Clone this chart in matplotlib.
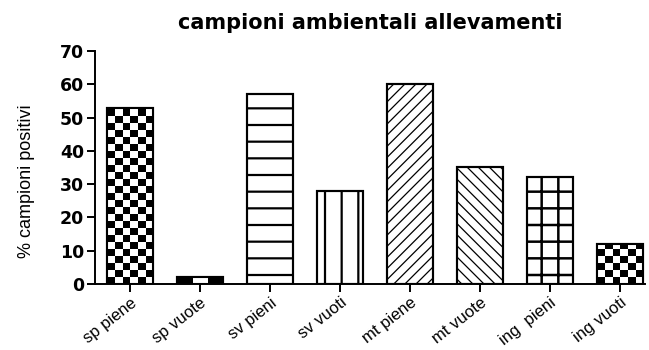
import numpy as np
import matplotlib
matplotlib.use('Agg')
import matplotlib.pyplot as plt

categories = ['sp piene', 'sp vuote', 'sv pieni', 'sv vuoti',
              'mt piene', 'mt vuote', 'ing  pieni', 'ing vuoti']
values = [53, 2, 57, 28, 60, 35, 32, 12]
hatches = [None, None, '-', '|', '///', '\\\\\\', '+', None]
hatch_lw = [0, 0, 1.6, 1.6, 0.9, 0.9, 1.8, 0]
checker_cols = {0: 6, 1: 3, 7: 6}   # bars drawn with a checkerboard fill

plt.rcParams['hatch.linewidth'] = 1.6

fig = plt.figure(figsize=(6.49, 3.5), dpi=100)
ax = fig.add_axes([0.1464, 0.1886, 0.8474, 0.6657])

x = np.arange(len(categories))
width = 0.66

bars = ax.bar(x, values, width=width, color='white', edgecolor='black',
              linewidth=1.5, zorder=2)
for b, h, lw in zip(bars, hatches, hatch_lw):
    if h:
        b.set_hatch(h)
        if hasattr(b, 'set_hatch_linewidth'):
            b.set_hatch_linewidth(lw)

# checkerboard fills, clipped to the bars
for i, ncols in checker_cols.items():
    b = bars[i]
    x0, y0, w, hgt = b.get_x(), b.get_y(), b.get_width(), b.get_height()
    cw = w / ncols
    ch = 2.1 if ncols == 6 else hgt
    nrows = int(np.ceil(hgt / ch))
    img = 1 - np.add.outer(np.arange(nrows), np.arange(ncols)) % 2
    im = ax.imshow(img, extent=(x0, x0 + ncols * cw, y0, y0 + nrows * ch),
                   origin='lower', cmap='gray_r', interpolation='nearest',
                   aspect='auto', zorder=2.5)
    im.set_clip_path(b)

# outlines on top
ax.bar(x, values, width=width, fill=False, edgecolor='black',
       linewidth=1.5, zorder=3)

ax.set_xlim(-0.5, 7.36)
ax.set_ylim(0, 70)
ax.set_yticks(range(0, 71, 10))
ax.set_xticks(x)
ax.set_xticklabels(categories, rotation=38, ha='right',
                   rotation_mode='anchor', fontsize=12,
                   family=['Liberation Sans', 'DejaVu Sans'])

for s in ['top', 'right']:
    ax.spines[s].set_visible(False)
for s in ['left', 'bottom']:
    ax.spines[s].set_linewidth(1.4)

ax.tick_params(axis='y', length=6, width=1.4, labelsize=12.5, pad=2)
ax.tick_params(axis='x', length=6, width=1.4, pad=2)
for lab in ax.get_yticklabels():
    lab.set_fontweight('bold')

ax.set_ylabel('% campioni positivi', fontsize=13,
              family=['Liberation Sans', 'DejaVu Sans'])
ax.yaxis.set_label_coords(-0.11, 0.44)
ax.set_title('campioni ambientali allevamenti', fontsize=15,
             fontweight='bold', pad=16)

fig.savefig('out.png', dpi=100)
